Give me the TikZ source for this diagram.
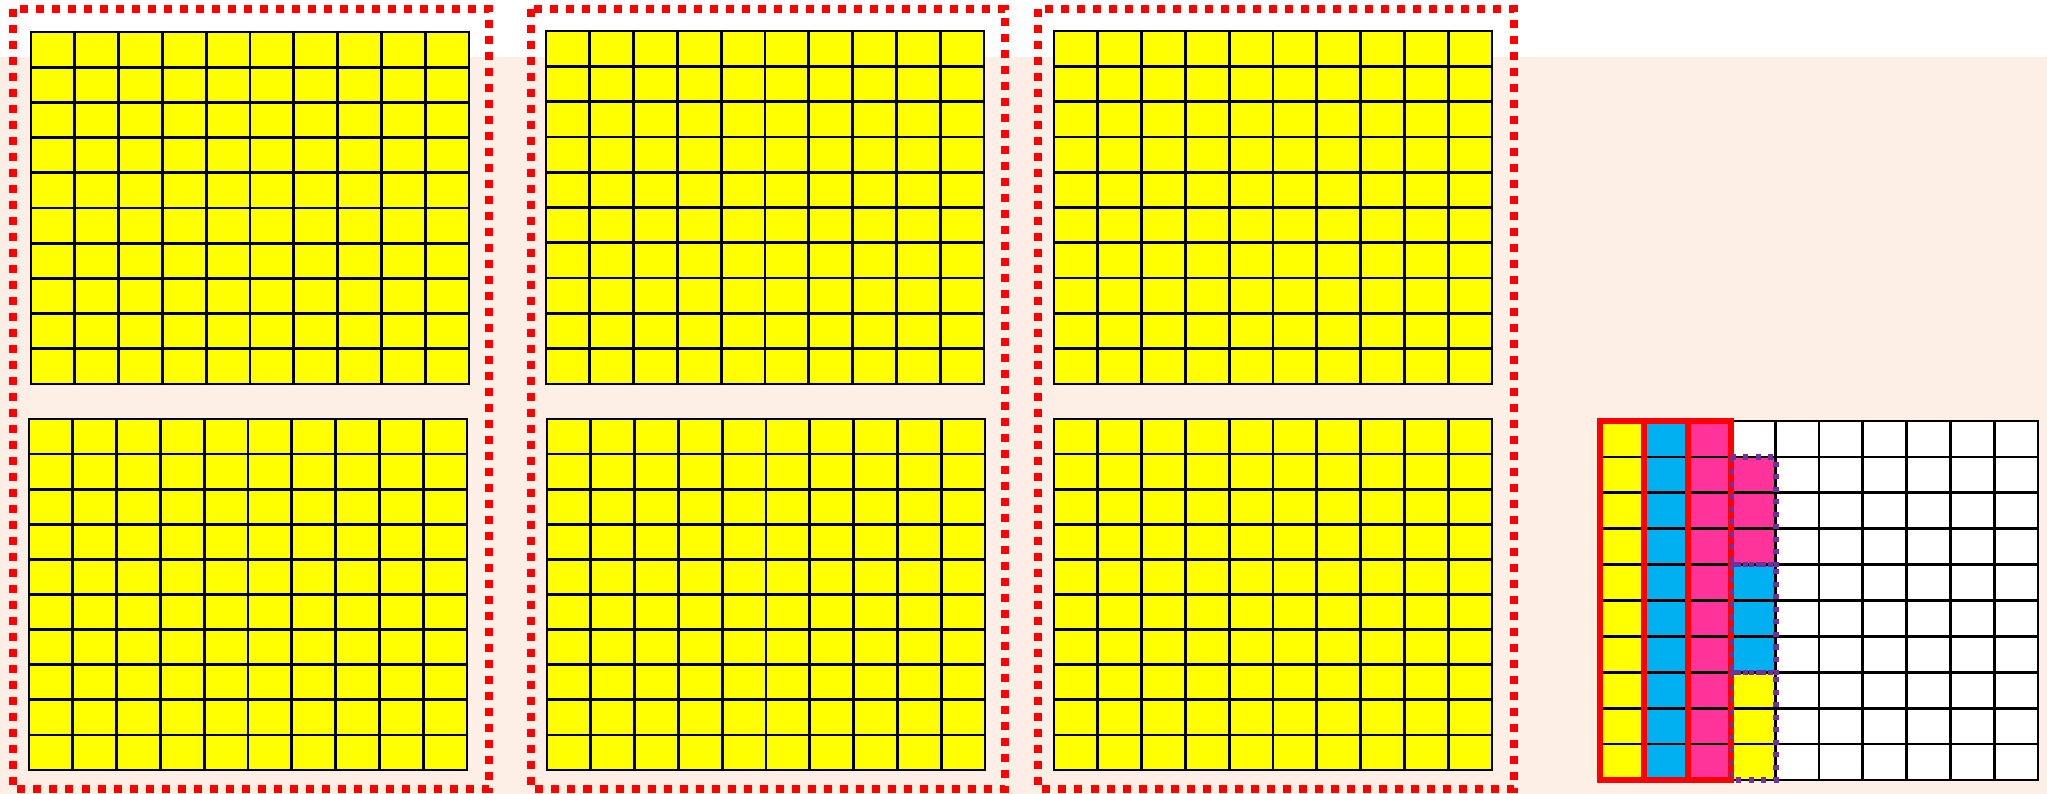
\documentclass[tikz,border=0pt]{standalone}
\definecolor{bgpeach}{RGB}{253,239,229}
\definecolor{cellyellow}{RGB}{255,255,0}
\definecolor{cellblue}{RGB}{0,176,240}
\definecolor{cellpink}{RGB}{255,51,153}
\definecolor{framered}{RGB}{255,0,0}
\definecolor{grppurple}{RGB}{112,48,160}
\begin{document}
\begin{tikzpicture}[x=0.01cm, y=-0.01cm,
  gridline/.style={draw=black, line width=0.027cm},
  dashframe/.style={draw=framered, line width=0.08cm, dash pattern=on 0.08cm off 0.08cm},
  colbox/.style={draw=framered, line width=0.06cm},
  grpbox/.style={draw=grppurple, line width=0.055cm, dash pattern=on 0.05cm off 0.075cm}]
\useasboundingbox (0,0) rectangle (2047,794);
\fill[bgpeach] (0,57) rectangle (2047,794);
% yellow hundred grids
\foreach \gx/\gy/\gh in {31/32/352, 546/31/353, 1054/31/353, 29/419/351, 547/419/351, 1054/419/351} {
  \fill[cellyellow] (\gx,\gy) rectangle ++(438,\gh);
  \foreach \i in {1,...,9} {
    \draw[gridline] (\gx+\i*43.8,\gy) -- ++(0,\gh);
    \draw[gridline] (\gx,\gy+\i*\gh/10) -- ++(438,0);
  }
  \draw[gridline] (\gx,\gy) rectangle ++(438,\gh);
}
\foreach \fx/\fw in {13/476, 531/474, 1038/476}
  \draw[dashframe] (\fx,9) rectangle ++(\fw,780);
% partly filled grid
\fill[white] (1600,421) rectangle ++(438,359);
\fill[cellyellow] (1600,421) rectangle ++(43.8,359);
\fill[cellblue] (1643.8,421) rectangle ++(43.8,359);
\fill[cellpink] (1687.6,421) rectangle ++(43.8,359);
\fill[cellpink] (1731.4,456.9) rectangle ++(43.8,107.7);
\fill[cellblue] (1731.4,564.6) rectangle ++(43.8,107.7);
\fill[cellyellow] (1731.4,672.3) rectangle ++(43.8,107.7);
\foreach \i in {1,...,9} {
  \draw[gridline] (1600+\i*43.8,421) -- ++(0,359);
  \draw[gridline] (1600,421+\i*35.9) -- ++(438,0);
}
\draw[gridline] (1600,421) rectangle ++(438,359);
\foreach \c in {0,1,2}
  \draw[colbox] (1600+\c*43.8,421) rectangle ++(43.8,359);
\foreach \r in {1,4,7}
  \draw[grpbox] (1731.4,421+\r*35.9) rectangle ++(44.6,107.7);
\end{tikzpicture}
\end{document}
